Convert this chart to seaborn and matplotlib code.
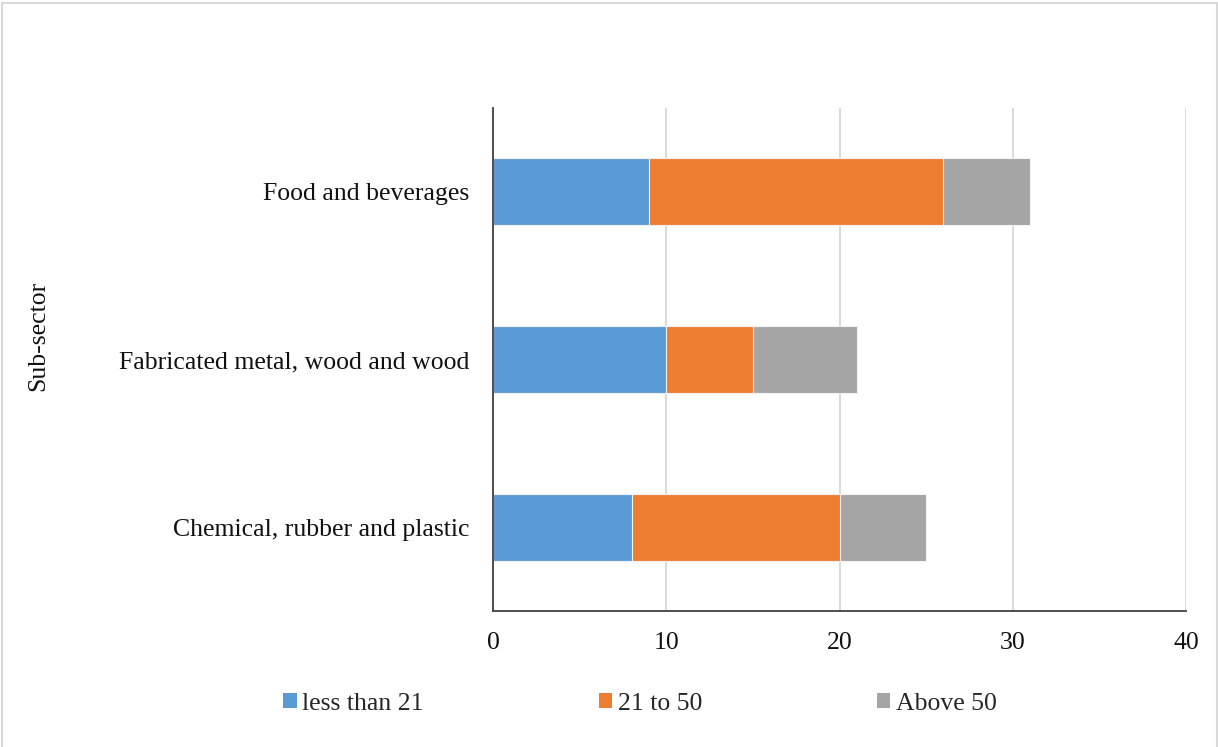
import numpy as np
import matplotlib
matplotlib.use("Agg")
import matplotlib.pyplot as plt
import seaborn as sns
from matplotlib.patches import Patch
from matplotlib.lines import Line2D

# Firms by sub-sector, split by number of employees
sectors = ["Food and beverages", "Fabricated metal, wood and wood", "Chemical, rubber and plastic"]
size_groups = ["less than 21", "21 to 50", "Above 50"]
less_than_21 = [9, 10, 8]
from_21_to_50 = [17, 5, 12]
above_50 = [5, 6, 5]
x_ticks = [0, 10, 20, 30, 40]

colors = ["#5B9BD5", "#ED7D31", "#A5A5A5"]
FS = 18.5

sns.set_theme(style="white")
plt.rcParams["font.family"] = ["Liberation Serif", "DejaVu Serif"]

fig = plt.figure(figsize=(12.18, 7.47), dpi=100)
ax = fig.add_axes([0.4048, 0.1821, 0.5689, 0.6733])

# stacked bars: draw cumulative totals from the outermost segment inwards
layers = np.array([less_than_21, from_21_to_50, above_50])
cum = np.cumsum(layers, axis=0)
for i in reversed(range(len(layers))):
    sns.barplot(x=cum[i], y=sectors, order=sectors, orient="h",
                color=colors[i], saturation=1, width=0.4, errorbar=None,
                edgecolor="#f2f2f2", linewidth=0.8, ax=ax)

ax.set_xlim(0, 40)
ax.set_ylim(2.5, -0.5)
ax.set_xticks(x_ticks)
ax.xaxis.grid(True, color="#d9d9d9", linewidth=1.4)
ax.yaxis.grid(False)
ax.set_axisbelow(True)
for side in ("top", "right"):
    ax.spines[side].set_visible(False)
for side in ("left", "bottom"):
    ax.spines[side].set_color("#404040")
    ax.spines[side].set_linewidth(1.3)
ax.tick_params(axis="both", length=0, labelsize=FS, colors="#111111")
ax.tick_params(axis="x", pad=15)
ax.tick_params(axis="y", pad=17)
ax.set_xlabel("")
ax.set_ylabel("Sub-sector", fontsize=FS, color="#111111")
ax.yaxis.set_label_coords(-0.641, 0.547)

handles = [Patch(facecolor=c, edgecolor="none") for c in colors]
fig.legend(handles, size_groups, loc="center", bbox_to_anchor=(0.5255, 1 - 704 / 747),
           ncol=3, frameon=False, fontsize=FS, handlelength=0.52, handleheight=0.52,
           handletextpad=0.22, columnspacing=6.8)

# light frame around the chart area
frame = dict(color="#d9d9d9", linewidth=1.5, transform=fig.transFigure)
fig.add_artist(Line2D([0.0016, 0.0016], [0, 0.996], **frame))
fig.add_artist(Line2D([0.0016, 0.9992], [0.996, 0.996], **frame))
fig.add_artist(Line2D([0.9992, 0.9992], [0, 0.996], **frame))

fig.savefig("out.png", dpi=100, facecolor="white")
